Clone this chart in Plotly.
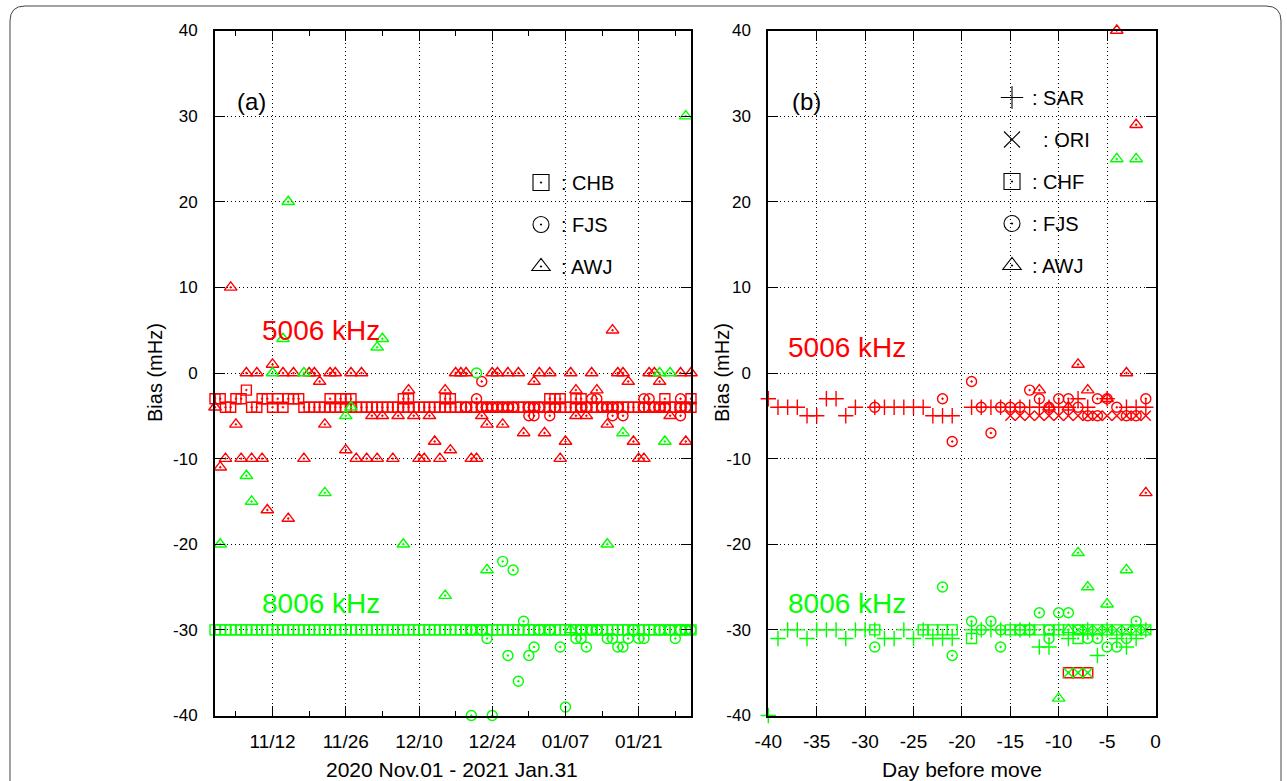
import plotly.graph_objects as go

W, H = 1287, 781
RED = "#ff0000"
GREEN = "#00ff00"
FONT = "Liberation Sans, Arial, Helvetica, sans-serif"

# ---------------- Panel (a): x = days since 2020-11-01 ----------------
A_TICK_DAYS = [11, 25, 39, 53, 67, 81]
A_TICK_LABELS = ["11/12", "11/26", "12/10", "12/24", "01/07", "01/21"]
A_MINOR_DAYS = [4, 11, 18, 25, 32, 39, 46, 53, 60, 67, 74, 81, 88]

A_DAYS = [0, 1, 2, 3, 4, 5, 6, 7, 8, 9,
          10, 11, 12, 13, 14, 15, 16, 17, 18, 19,
          20, 21, 22, 23, 24, 25, 26, 27, 28, 29,
          30, 31, 32, 33, 34, 35, 36, 37, 38, 39,
          40, 41, 42, 43, 44, 45, 46, 47, 48, 49,
          50, 51, 52, 53, 54, 55, 56, 57, 58, 59,
          60, 61, 62, 63, 64, 65, 66, 67, 68, 69,
          70, 71, 72, 73, 74, 75, 76, 77, 78, 79,
          80, 81, 82, 83, 84, 85, 86, 87, 88, 89,
          90, 91]

# CHB, 5006 kHz (one value per day)
A_CHB_5006 = [-3, -3, -4, -4, -3, -3, -2, -4, -4, -3,
              -3, -4, -3, -4, -3, -3, -3, -4, -4, -4,
              -4, -4, -4, -4, -4, -4, -4, -4, -4, -4,
              -4, -4, -4, -4, -4, -4, -4, -4, -4, -4,
              -4, -4, -4, -4, -4, -4, -4, -4, -4, -4,
              -4, -4, -4, -4, -4, -4, -4, -4, -4, -4,
              -4, -4, -4, -4, -4, -4, -4, -4, -4, -4,
              -4, -4, -4, -4, -4, -4, -4, -4, -4, -4,
              -4, -4, -4, -4, -4, -4, -4, -4, -4, -4,
              -4, -4]
# CHB, 5006 kHz second readings
A_CHB_5006_EXTRA_DAY = [22, 24, 25, 26, 36, 37, 44, 45, 64, 65, 66, 69, 70, 86, 91]
A_CHB_5006_EXTRA_VAL = [-3, -3, -3, -3, -3, -3, -3, -3, -3, -3, -3, -3, -3, -3, -3]
# CHB, 8006 kHz
A_CHB_8006 = [-30, -30, -30, -30, -30, -30, -30, -30, -30, -30,
              -30, -30, -30, -30, -30, -30, -30, -30, -30, -30,
              -30, -30, -30, -30, -30, -30, -30, -30, -30, -30,
              -30, -30, -30, -30, -30, -30, -30, -30, -30, -30,
              -30, -30, -30, -30, -30, -30, -30, -30, -30, -30,
              -30, -30, -30, -30, -30, -30, -30, -30, -30, -30,
              -30, -30, -30, -30, -30, -30, -30, -30, -30, -30,
              -30, -30, -30, -30, -30, -30, -30, -30, -30, -30,
              -30, -30, -30, -30, -30, -30, -30, -30, -30, -30,
              -30, -30]

# FJS
A_FJS_5006_DAY = [48, 50, 51, 51, 52, 53, 54, 55, 56, 57,
                  60, 60, 61, 61, 62, 64, 65, 70, 71, 72,
                  73, 74, 75, 76, 76, 77, 78, 82, 82, 83,
                  84, 85, 86, 89, 89, 89, 90]
A_FJS_5006_VAL = [-4, -3, -4, -1, -4, -4, -4, -4, -4, -4,
                  -4, -5, -4, -5, -4, -5, -4, -4, -4, -3,
                  -3, -4, -4, -4, -5, -4, -5, -3, -4, -3,
                  -4, -4, -4, -3, -4, -5, -4]
A_FJS_8006_DAY = [49, 49, 50, 51, 52, 53, 55, 56, 57, 58,
                  59, 60, 61, 62, 64, 66, 67, 69, 70, 70,
                  71, 72, 73, 75, 76, 77, 78, 79, 80, 81,
                  82, 85, 87, 88, 89, 90, 91]
A_FJS_8006_VAL = [-40, -30, 0, -30, -31, -40, -22, -33, -23, -36,
                  -29, -33, -32, -30, -30, -32, -39, -31, -31, -30,
                  -32, -30, -30, -31, -31, -32, -32, -31, -30, -31,
                  -31, -30, -30, -31, -30, -30, -30]

# AWJ
A_AWJ_5006_DAY = [0, 1, 2, 3, 4, 5, 6, 7, 8, 9,
                  10, 11, 13, 14, 15, 17, 18, 19, 20, 21,
                  22, 23, 25, 26, 27, 28, 29, 30, 31, 32,
                  34, 35, 37, 38, 39, 40, 41, 42, 43, 44,
                  45, 46, 47, 48, 49, 50, 51, 52, 53, 54,
                  55, 56, 58, 59, 61, 62, 63, 64, 66, 67,
                  68, 69, 69, 71, 72, 73, 75, 76, 77, 78,
                  79, 80, 81, 82, 83, 84, 85, 87, 89, 90,
                  91]
A_AWJ_5006_VAL = [-4, -11, -10, 10, -6, -10, 0, -10, 0, -10,
                  -16, 1, 0, -17, 0, -10, 0, 0, -1, -6,
                  0, 0, -9, 0, -10, 0, -10, -5, -10, -5,
                  -10, -5, -2, -5, -10, -10, -5, -8, -10, -2,
                  -9, 0, 0, 0, -10, -10, -5, -6, 0, 0,
                  -6, 0, 0, -7, -1, 0, -7, 0, -10, -8,
                  0, -2, -5, -5, 0, -2, -6, 5, 0, 0,
                  -1, -8, -10, -10, 0, 0, -1, -5, 0, -8,
                  0]
A_AWJ_8006_DAY = [1, 6, 7, 11, 13, 14, 17, 21, 25, 26, 31, 32, 36, 44, 52, 68, 75, 78, 85, 86, 87, 90]
A_AWJ_8006_VAL = [-20, -12, -15, 0, 4, 20, 0, -14, -5, -4, 3, 4, -20, -26, -23, -30, -20, -7, 0, -8, 0, 30]

# ---------------- Panel (b): x = day before move ----------------
B_TICKS = [-40, -35, -30, -25, -20, -15, -10, -5, 0]
B_TICK_LABELS = ["-40", "-35", "-30", "-25", "-20", "-15", "-10", "-5", "0"]

B_SAR_5006_X = [-40, -39, -38, -37, -36, -35, -34, -33, -32, -31,
                -29, -28, -27, -26, -25, -24, -23, -22, -21, -19,
                -18, -17, -16, -15, -14, -13, -12, -11, -10, -9,
                -8, -7, -5, -3, -2, -1]
B_SAR_5006_Y = [-3, -4, -4, -4, -5, -5, -3, -3, -5, -4,
                -4, -4, -4, -4, -4, -4, -5, -5, -5, -4,
                -4, -4, -4, -4, -4, -4, -4, -4, -4, -4,
                -3, -4, -3, -4, -4, -4]
B_ORI_5006_X = [-15, -14, -13, -12, -11, -10, -9, -8, -7, -6, -5, -4, -3, -2, -1]
B_ORI_5006_Y = [-5, -5, -5, -5, -5, -5, -5, -5, -5, -5, -5, -5, -5, -5, -5]
B_CHF_5006_X = [-9, -8, -7]
B_CHF_5006_Y = [-35, -35, -35]
B_FJS_5006_X = [-29, -22, -21, -19, -18, -17, -16, -15, -14, -13, -12, -11,
                -10, -9, -8, -7, -6, -6, -5, -4, -3, -2, -1]
B_FJS_5006_Y = [-4, -3, -8, -1, -4, -7, -4, -4, -4, -2, -3, -4,
                -3, -3, -4, -5, -5, -3, -3, -4, -5, -5, -3]
B_AWJ_5006_X = [-12, -11, -9, -8, -7, -5, -4, -3, -2, -1]
B_AWJ_5006_Y = [-2, -4, -4, 1, -2, -3, 40, 0, 29, -14]

B_SAR_8006_X = [-40, -39, -38, -37, -36, -35, -34, -33, -32, -31,
                -30, -29, -28, -27, -26, -25, -24, -23, -22, -21,
                -19, -18, -17, -16, -15, -14, -13, -12, -11, -10,
                -9, -7, -6, -5, -4, -3, -2, -1]
B_SAR_8006_Y = [-40, -31, -30, -30, -31, -30, -30, -30, -31, -30,
                -30, -30, -31, -31, -30, -31, -30, -31, -31, -31,
                -30, -30, -30, -30, -30, -30, -30, -32, -32, -30,
                -31, -30, -33, -30, -31, -32, -31, -30]
B_ORI_8006_X = [-9, -8, -7, -8, -7, -6, -5, -4, -3, -2, -1]
B_ORI_8006_Y = [-35, -35, -35, -30, -30, -30, -30, -30, -30, -30, -30]
B_CHF_8006_X = [-29, -24, -23, -22, -21, -19, -15, -14, -13, -12, -11,
                -10, -9, -8, -8, -7, -6, -5, -4, -3, -2, -1]
B_CHF_8006_Y = [-30, -30, -30, -30, -30, -31, -30, -30, -30, -30, -30,
                -30, -30, -30, -31, -30, -30, -30, -30, -30, -30, -30]
B_FJS_8006_X = [-29, -22, -21, -19, -18, -17, -16, -16, -14, -13, -12,
                -11, -11, -10, -9, -8, -7, -6, -5, -4, -3, -2]
B_FJS_8006_Y = [-32, -25, -33, -29, -30, -29, -32, -30, -30, -30, -28,
                -31, -30, -28, -28, -30, -31, -31, -32, -32, -31, -29]
B_AWJ_8006_X = [-10, -9, -8, -7, -5, -4, -3, -2]
B_AWJ_8006_Y = [-38, -30, -21, -25, -27, 25, -23, 25]

Y_TICKS = [-40, -30, -20, -10, 0, 10, 20, 30, 40]
Y_TICK_LABELS = ["-40", "-30", "-20", "-10", "0", "10", "20", "30", "40"]

# ---------------- figure ----------------
fig = go.Figure()

SYM = {
    "square": ("square-open-dot", 10),
    "circle": ("circle-open-dot", 10),
    "triangle": ("triangle-up-open-dot", 11),
    "plus": ("cross-thin-open", 11),
    "x": ("x-thin-open", 10),
}


def add(panel, x, y, kind, color):
    sym, size = SYM[kind]
    xa, ya = ("x", "y") if panel == "a" else ("x2", "y2")
    fig.add_trace(go.Scatter(
        x=x, y=y, mode="markers", xaxis=xa, yaxis=ya,
        marker=dict(symbol=sym, size=size, color=color,
                    line=dict(color=color, width=1.4)),
        showlegend=False, cliponaxis=False, hoverinfo="skip"))


# panel (a)
add("a", A_DAYS, A_CHB_5006, "square", RED)
add("a", A_CHB_5006_EXTRA_DAY, A_CHB_5006_EXTRA_VAL, "square", RED)
add("a", A_DAYS, A_CHB_8006, "square", GREEN)
add("a", A_FJS_5006_DAY, A_FJS_5006_VAL, "circle", RED)
add("a", A_FJS_8006_DAY, A_FJS_8006_VAL, "circle", GREEN)
add("a", A_AWJ_5006_DAY, A_AWJ_5006_VAL, "triangle", RED)
add("a", A_AWJ_8006_DAY, A_AWJ_8006_VAL, "triangle", GREEN)

# panel (b)
add("b", B_CHF_5006_X, B_CHF_5006_Y, "square", RED)
add("b", B_CHF_8006_X, B_CHF_8006_Y, "square", GREEN)
add("b", B_SAR_5006_X, B_SAR_5006_Y, "plus", RED)
add("b", B_SAR_8006_X, B_SAR_8006_Y, "plus", GREEN)
add("b", B_ORI_5006_X, B_ORI_5006_Y, "x", RED)
add("b", B_ORI_8006_X, B_ORI_8006_Y, "x", GREEN)
add("b", B_FJS_5006_X, B_FJS_5006_Y, "circle", RED)
add("b", B_FJS_8006_X, B_FJS_8006_Y, "circle", GREEN)
add("b", B_AWJ_5006_X, B_AWJ_5006_Y, "triangle", RED)
add("b", B_AWJ_8006_X, B_AWJ_8006_Y, "triangle", GREEN)

# legend keys (black symbols)
LEG_A = [(": CHB", "square-open-dot"), (": FJS", "circle-open-dot"), (": AWJ", "triangle-up-open-dot")]
LEG_B = [(": SAR", "cross-thin-open"), ("\u00a0 : ORI", "x-thin-open"), (": CHF", "square-open-dot"),
         (": FJS", "circle-open-dot"), (": AWJ", "triangle-up-open-dot")]
for i, (name, sym) in enumerate(LEG_A):
    fig.add_trace(go.Scatter(x=[None], y=[None], mode="markers", name=name, legend="legend",
                             legendgroup="a%d" % i,
                             marker=dict(symbol=sym, size=16, color="black", line=dict(color="black", width=1.1))))
for i, (name, sym) in enumerate(LEG_B):
    fig.add_trace(go.Scatter(x=[None], y=[None], mode="markers", name=name, legend="legend2",
                             legendgroup="b%d" % i, xaxis="x2", yaxis="y2",
                             marker=dict(symbol=sym, size=16, color="black", line=dict(color="black", width=1.1))))


def px(xp):
    return xp / W


def py(yp):
    return 1 - yp / H


AX = dict(showline=True, linecolor="black", linewidth=2, mirror="allticks",
          ticks="inside", ticklen=10, tickwidth=1.2, tickcolor="black",
          showgrid=True, gridcolor="black", griddash="1px,3px", gridwidth=1,
          zeroline=False, layer="above traces", automargin=False)
YDOM = [py(715.5), py(30.5)]

fig.update_layout(
    width=W, height=H, margin=dict(l=0, r=0, t=0, b=0, pad=0, autoexpand=False), autosize=False,
    paper_bgcolor="white", plot_bgcolor="white",
    font=dict(family=FONT, color="black"),
    xaxis=dict(AX, domain=[px(215), px(691)], range=[0, 91], anchor="y",
               tickmode="array", tickvals=A_TICK_DAYS, ticktext=A_TICK_LABELS,
               tickfont=dict(size=19), ticklabelstandoff=8,
               minor=dict(tickmode="array", tickvals=A_MINOR_DAYS, ticks="inside",
                          ticklen=5, tickwidth=1.2, tickcolor="black", showgrid=False)),
    yaxis=dict(AX, domain=YDOM, range=[-40, 40], anchor="x",
               tickmode="array", tickvals=Y_TICKS, ticktext=Y_TICK_LABELS,
               tickfont=dict(size=17), ticklabelstandoff=12),
    xaxis2=dict(AX, domain=[px(768.3), px(1155.5)], range=[-40, 0], anchor="y2",
                tickmode="array", tickvals=B_TICKS, ticktext=B_TICK_LABELS,
                tickfont=dict(size=19), ticklabelstandoff=8),
    yaxis2=dict(AX, domain=YDOM, range=[-40, 40], anchor="x2",
                tickmode="array", tickvals=Y_TICKS, ticktext=Y_TICK_LABELS,
                tickfont=dict(size=17), ticklabelstandoff=12),
    legend=dict(x=px(521), y=py(163), xanchor="left", yanchor="top",
                bgcolor="rgba(0,0,0,0)", font=dict(family=FONT, size=20, color="black"),
                tracegroupgap=13, itemclick=False, itemdoubleclick=False),
    legend2=dict(x=px(992), y=py(78), xanchor="left", yanchor="top",
                 bgcolor="rgba(0,0,0,0)", font=dict(family=FONT, size=20, color="black"),
                 tracegroupgap=13, itemclick=False, itemdoubleclick=False),
)

ann = [
    dict(text="(a)", x=px(251), y=py(101), size=24, color="black"),
    dict(text="(b)", x=px(806), y=py(101), size=24, color="black"),
    dict(text="5006 kHz", x=px(320.5), y=py(330.5), size=28, color=RED),
    dict(text="8006 kHz", x=px(320.5), y=py(603), size=28, color=GREEN),
    dict(text="5006 kHz", x=px(847), y=py(348), size=28, color=RED),
    dict(text="8006 kHz", x=px(847), y=py(603), size=28, color=GREEN),
    dict(text="2020 Nov.01 - 2021 Jan.31", x=px(452), y=py(769), size=21, color="black"),
    dict(text="Day before move", x=px(962), y=py(769), size=21, color="black"),
]
for a in ann:
    fig.add_annotation(text=a["text"], x=a["x"], y=a["y"], xref="paper", yref="paper",
                       xanchor="center", yanchor="middle", showarrow=False,
                       font=dict(family=FONT, size=a["size"], color=a["color"]))
for xc in (155, 722):
    fig.add_annotation(text="Bias (mHz)", x=px(xc), y=py(373), xref="paper", yref="paper",
                       xanchor="center", yanchor="middle", showarrow=False, textangle=-90,
                       font=dict(family=FONT, size=20, color="black"))

# rounded outer frame
x0, x1, y0, yb, r = px(10), px(1281), py(6), py(800), 15
border = ("M {:.5f},{:.5f} L {:.5f},{:.5f} Q {:.5f},{:.5f} {:.5f},{:.5f} L {:.5f},{:.5f} "
          "Q {:.5f},{:.5f} {:.5f},{:.5f} L {:.5f},{:.5f}").format(
    x0, yb, x0, py(6 + r), x0, y0, px(10 + r), y0, px(1281 - r), y0, x1, y0, x1, py(6 + r), x1, yb)
fig.add_shape(type="path", path=border, xref="paper", yref="paper",
              line=dict(color="#444444", width=1))

POST = ("var d=document.getElementById('{plot_id}');"
        "d.style.position='fixed';d.style.left='0px';d.style.top='0px';"
        "document.body.style.margin='0';document.body.style.overflow='hidden';")
fig.write_html("out.html", config={"displayModeBar": False}, post_script=POST)
